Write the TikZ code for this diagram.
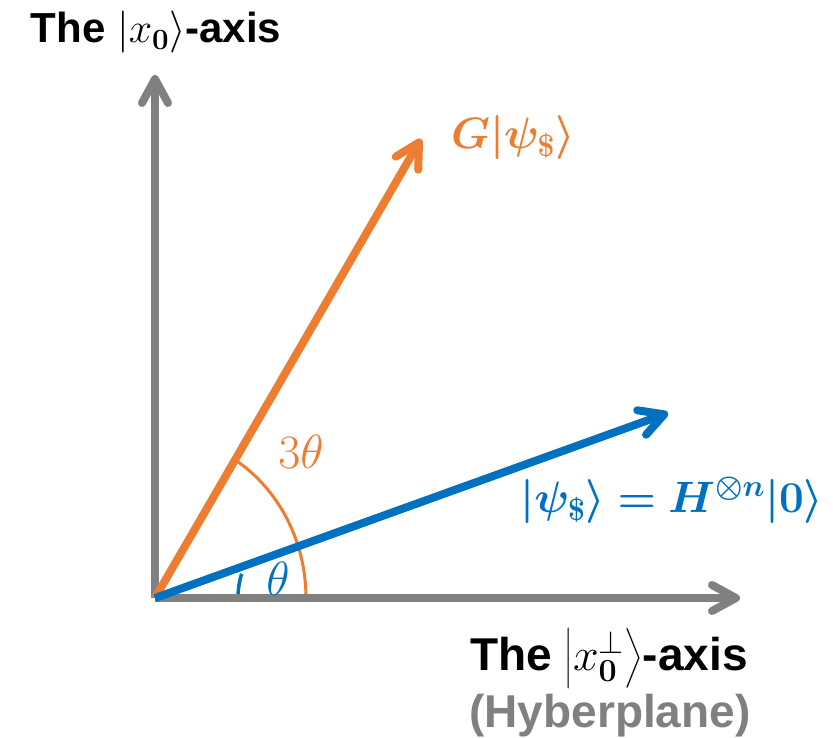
\documentclass[tikz,border=0pt]{standalone}
\RequirePackage{fix-cm}
\usepackage{amsmath,bm}
\usepackage[no-math]{fontspec}
\setmainfont{Liberation Sans}
\usetikzlibrary{arrows.meta,calc}
\definecolor{axgray}{RGB}{128,128,128}
\definecolor{vorange}{RGB}{237,125,49}
\definecolor{vblue}{RGB}{0,112,192}
\tikzset{
  vec/.style={line width=8pt, -{Straight Barb[length=24pt,width=26pt,line width=8pt,round]}},
  axislab/.style={font=\fontsize{42}{48}\selectfont\bfseries, inner sep=0pt, anchor=base},
  axislabb/.style={font=\fontsize{46}{52}\selectfont\bfseries, inner sep=0pt, anchor=base},
  veclab/.style={font=\fontsize{44}{50}\selectfont, inner sep=0pt},
  anglab/.style={font=\fontsize{48}{54}\selectfont, inner sep=0pt},
}
\begin{document}
\begin{tikzpicture}[x=1pt,y=-1pt]
\useasboundingbox (0,0) rectangle (833,738);
\coordinate (O) at (155,598);
\coordinate (Ytip) at (155,75);
\coordinate (Xtip) at (740,598);
\coordinate (Gtip) at (421,139);
\coordinate (Ptip) at (668,413);
% arcs
\draw[vorange, line width=3pt] (306,598) arc[start angle=0, end angle=58, x radius=151, y radius=-163];
\draw[vblue, line width=3.5pt] (238,598) arc[start angle=0, end angle=17, radius=-83];
% axes
\draw[vec, axgray] (O) -- (Ytip);
\draw[vec, axgray] (O) -- (Xtip);
% vectors
\draw[vec, vorange] (O) -- (Gtip);
\draw[vec, vblue] (O) -- (Ptip);
% labels
\node[axislab] (ylab) at (156,43) {The $|x_{\mathbf{0}}\rangle$-axis};
\node[axislabb] (xlab) at (609,670) {The $\left|x_{\mathbf{0}}^{\perp}\right\rangle$-axis};
\node[axislabb, text=axgray] (hyp) at (610,727) {(Hyberplane)};
\node[veclab, text=vorange] (glab) at (513,138) {$\bm{G|\psi_{\$}\rangle}$};
\node[veclab, text=vblue] (plab) at (672,500) {$\bm{|\psi_{\$}\rangle = H^{\otimes n}|0\rangle}$};
\node[anglab, text=vorange] (a3) at (301,452) {$3\theta$};
\node[anglab, text=vblue] (a1) at (278,579) {$\theta$};
\end{tikzpicture}
\end{document}
